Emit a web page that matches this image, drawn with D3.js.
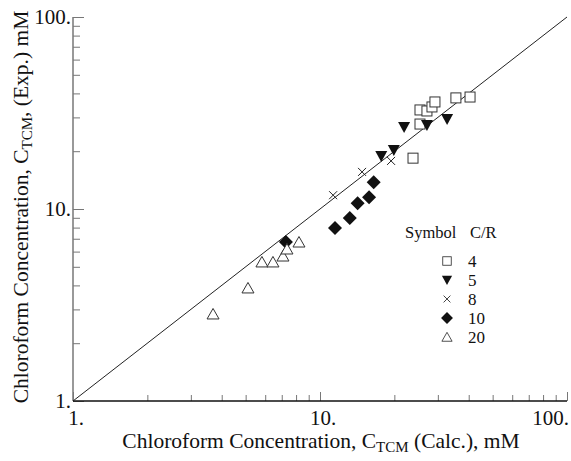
<!DOCTYPE html>
<html>
<head>
<meta charset="utf-8">
<script src="https://cdn.jsdelivr.net/npm/d3@7"></script>
<style>
body { margin: 0; background: #fff; }
svg text { font-family: "Liberation Serif", "Times New Roman", serif; fill: #111; }
</style>
</head>
<body>
<svg id="chart" width="571" height="461"></svg>
<script>
// data: [calc, exp] in mM
var cr4 = [[25.4, 32.8], [27.1, 32.4], [28.4, 34.0], [29.2, 36.1], [25.4, 27.7], [35.5, 37.9], [40.5, 38.3], [23.8, 18.4]];
var cr5 = [[21.9, 26.7], [27.1, 27.4], [32.7, 29.4], [17.7, 18.9], [19.9, 20.3]];
var cr8 = [[11.3, 11.8], [14.8, 15.6], [19.4, 17.8]];
var cr10 = [[11.5, 7.96], [13.2, 8.98], [14.2, 10.7], [15.8, 11.5], [16.5, 13.8], [7.28, 6.73]];
var cr20 = [[3.69, 2.84], [5.11, 3.88], [5.82, 5.30], [6.45, 5.30], [7.08, 5.69], [7.35, 6.19], [8.22, 6.73]];
var legendLabels = ['4', '5', '8', '10', '20'];
var majorTicks = [1, 10, 100];
var minorTicks = [2, 3, 4, 5, 6, 7, 8, 9, 20, 30, 40, 50, 60, 70, 80, 90];

var svg = d3.select('#chart');
var x = d3.scaleLog().domain([1, 100]).range([73, 567]);
var y = d3.scaleLog().domain([1, 100]).range([401, 17]);

// symbol drawers
var symbols = {
	square: function(g){
		g.append('rect').attr('x', -5).attr('y', -5).attr('width', 10).attr('height', 10)
			.attr('fill', '#fff').attr('stroke', '#333').attr('stroke-width', 1);
	},
	down: function(g){
		g.append('path').attr('d', 'M-6,-5L6,-5L0,6Z').attr('fill', '#111');
	},
	cross: function(g){
		g.append('path').attr('d', 'M-4,-4L4,4M-4,4L4,-4').attr('stroke', '#222').attr('stroke-width', 1).attr('fill', 'none');
	},
	diamond: function(g){
		g.append('path').attr('d', 'M0,-7L7,0L0,7L-7,0Z').attr('fill', '#111');
	},
	up: function(g){
		g.append('path').attr('d', 'M0,-5.5L6,5L-6,5Z').attr('fill', '#fff').attr('stroke', '#333').attr('stroke-width', 1);
	}
};

// axes
var xMinor = d3.axisBottom(x).tickValues(minorTicks).tickSize(-6).tickFormat('');
var xMajor = d3.axisBottom(x).tickValues(majorTicks).tickSize(-9).tickFormat('');
var yMinor = d3.axisLeft(y).tickValues(minorTicks).tickSize(-7).tickFormat('');
var yMajor = d3.axisLeft(y).tickValues(majorTicks).tickSize(-11).tickFormat('');

svg.append('g').attr('transform', 'translate(0,401)').call(xMinor);
svg.append('g').attr('transform', 'translate(0,401)').call(xMajor);
svg.append('g').attr('transform', 'translate(73,0)').call(yMinor);
svg.append('g').attr('transform', 'translate(73,0)').call(yMajor);
svg.selectAll('.tick line').attr('stroke', '#777');
svg.selectAll('.domain').remove();
svg.append('line').attr('x1', 73).attr('x2', 73).attr('y1', y(100)).attr('y2', y(1))
	.attr('stroke', '#777').attr('stroke-width', 1.5);
svg.append('line').attr('x1', x(1)).attr('x2', x(100)).attr('y1', 401).attr('y2', 401)
	.attr('stroke', '#111').attr('stroke-width', 1.5);

// tick labels
svg.selectAll('.xlab').data(majorTicks).enter().append('text')
	.attr('x', function(d){ return d == 100 ? x(d) + 2 : x(d) + 3; })
	.attr('y', 425)
	.attr('text-anchor', function(d){ return d == 100 ? 'end' : 'middle'; })
	.attr('font-size', 21)
	.text(function(d){ return d + '.'; });
svg.selectAll('.ylab').data(majorTicks).enter().append('text')
	.attr('x', 71)
	.attr('y', function(d){ return y(d) + 7; })
	.attr('text-anchor', 'end')
	.attr('font-size', 21)
	.text(function(d){ return d + '.'; });

// axis titles
var xt = svg.append('text').attr('x', 321).attr('y', 448).attr('text-anchor', 'middle').attr('font-size', 21.5);
xt.append('tspan').text('Chloroform Concentration, C');
xt.append('tspan').attr('font-size', 15).attr('dy', 4).text('TCM');
xt.append('tspan').attr('dy', -4).text(' (Calc.), mM');

var yt = svg.append('text').attr('transform', 'translate(28,207) rotate(-90)').attr('text-anchor', 'middle').attr('font-size', 21.5);
yt.append('tspan').text('Chloroform Concentration, C');
yt.append('tspan').attr('font-size', 15).attr('dy', 4).text('TCM');
yt.append('tspan').attr('dy', -4).text(', (Exp.) mM');

// y = x line
svg.append('line').attr('x1', x(1)).attr('y1', y(1)).attr('x2', x(100)).attr('y2', y(100))
	.attr('stroke', '#222').attr('stroke-width', 1);

// points
var groups = [[cr4, 'square'], [cr5, 'down'], [cr8, 'cross'], [cr10, 'diamond'], [cr20, 'up']];
groups.forEach(function(gr){
	svg.append('g').selectAll('g').data(gr[0]).enter().append('g')
		.attr('transform', function(d){ return 'translate(' + x(d[0]) + ',' + y(d[1]) + ')'; })
		.each(function(){ symbols[gr[1]](d3.select(this)); });
});

// legend
svg.append('text').attr('x', 405).attr('y', 238).attr('font-size', 16.5).text('Symbol');
svg.append('text').attr('x', 470).attr('y', 238).attr('font-size', 16.5).text('C/R');
groups.forEach(function(gr, i){
	var ly = 261 + i * 19;
	var g = svg.append('g').attr('transform', 'translate(447,' + ly + ') scale(0.85)');
	symbols[gr[1]](g);
	svg.append('text').attr('x', 468).attr('y', ly + 6).attr('font-size', 17).text(legendLabels[i]);
});
</script>
</body>
</html>
